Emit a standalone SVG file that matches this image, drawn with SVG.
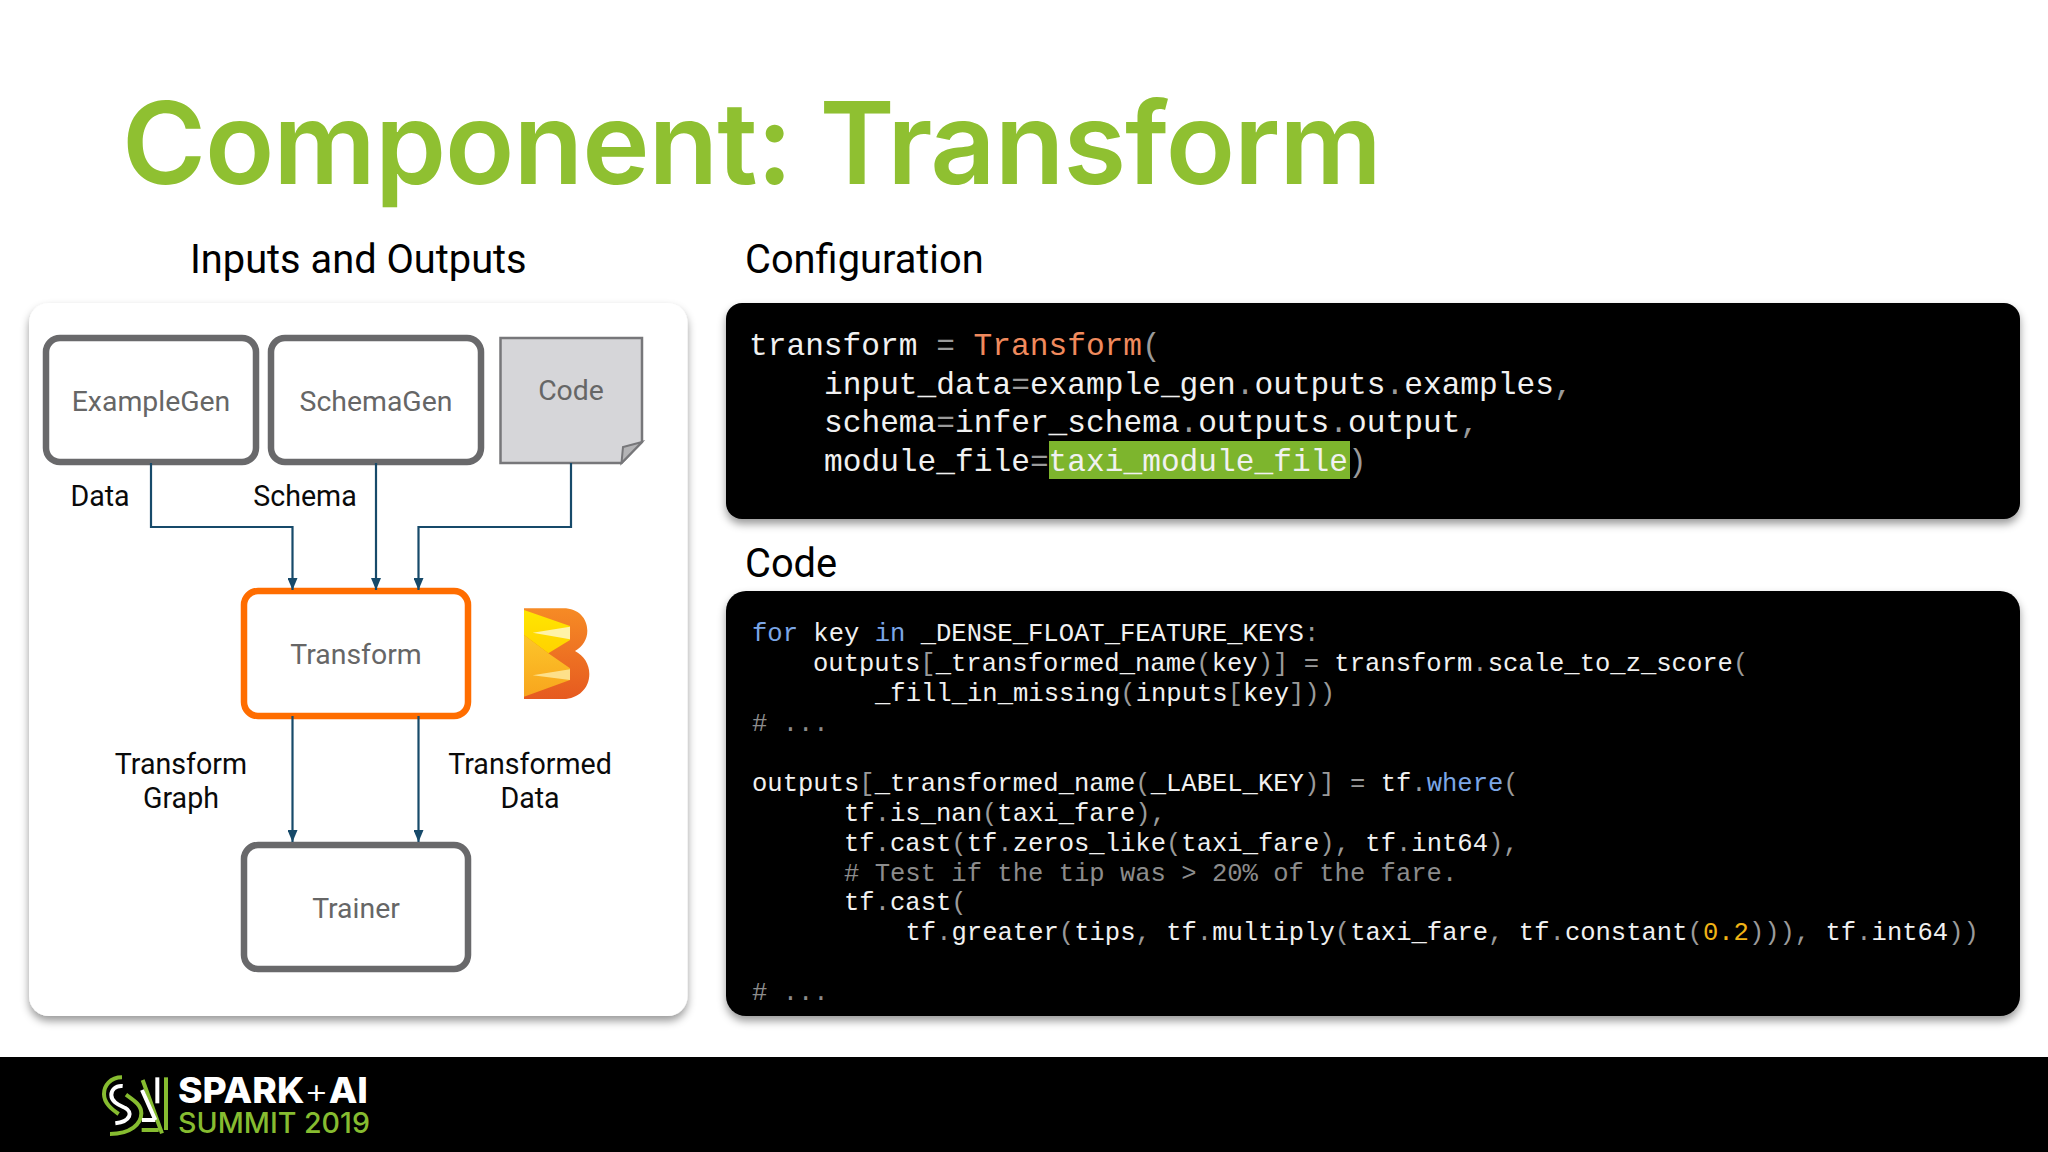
<svg xmlns="http://www.w3.org/2000/svg" width="2048" height="1152" viewBox="0 0 2048 1152">
<style>
.ui{font-family:Roboto,"Liberation Sans",sans-serif}
.h{font-size:39.8px;fill:#000}
.lb{font-size:28.6px;fill:#0a0a0a;text-anchor:middle}
.nt{font-size:28.4px;fill:#666;text-anchor:middle}
.box{fill:#fff;stroke:#69696b;stroke-width:6.500}
.conn{fill:none;stroke:#174a6a;stroke-width:2.2}
.m{font-family:"Liberation Mono","DejaVu Sans Mono",monospace;fill:#f1f1f1}
.c1{font-size:31.2px}
.c2{font-size:25.55px}
.p{fill:#9a9a9a}.k{fill:#7ba6e6}.o{fill:#f08a5d}.n{fill:#f1b416}.g{fill:#8c8c8c}
</style>
<defs>
<filter id="sh" x="-5%" y="-5%" width="110%" height="112%"><feDropShadow dx="0" dy="5" stdDeviation="4.500" flood-color="#000" flood-opacity=".4"/></filter>
<marker id="ah" viewBox="0 0 12 10" refX="12" refY="5" markerWidth="12" markerHeight="10" markerUnits="userSpaceOnUse" orient="auto"><path d="M0,0L12,5L0,10Z" fill="#174a6a"/></marker>
<linearGradient id="bo" x1="0" y1="0" x2="0" y2="1"><stop offset="0" stop-color="#f68b25"/><stop offset="1" stop-color="#e65a20"/></linearGradient>
<linearGradient id="by" x1="0" y1="0" x2="0" y2="1"><stop offset="0" stop-color="#ffe600"/><stop offset="1" stop-color="#ffd200"/></linearGradient>
<linearGradient id="by2" x1="0" y1="0" x2="0" y2="1"><stop offset="0" stop-color="#fcc62a"/><stop offset="1" stop-color="#f8a51d"/></linearGradient>
</defs>
<rect width="2048" height="1152" fill="#fff"/>
<text id="title" x="122" y="184" font-family="Inter,'Noto Sans',sans-serif" font-weight="600" font-size="114" fill="#8fc031" textLength="1260">Component: Transform</text>
<g class="ui">
<text class="h" x="190" y="272.500">Inputs and Outputs</text>
<text class="h" x="745" y="272.500">Configuration</text>
<text class="h" x="745" y="576.500">Code</text>
</g>
<rect id="card" x="29" y="303" width="658.500" height="713" rx="20" fill="#fff" filter="url(#sh)"/>
<g class="ui">
<g id="examplegen"><rect class="box" x="46" y="338" width="210" height="124" rx="14"/><text class="nt" x="151" y="410.500">ExampleGen</text></g>
<g id="schemagen"><rect class="box" x="271" y="338" width="210" height="124" rx="14"/><text class="nt" x="376" y="410.500">SchemaGen</text></g>
<g id="code"><path d="M500.500,338H642V442L621.500,463H500.500Z" fill="#d6d6d9" stroke="#77777a" stroke-width="2.500"/><path d="M642,442L623,447L621.500,463Z" fill="#b4b4b6" stroke="#77777a" stroke-width="2"/><text class="nt" x="571" y="400">Code</text></g>
<g id="transform"><rect class="box" x="244" y="591" width="224" height="125" rx="14" style="stroke:#ff6d00"/><text class="nt" x="356" y="664">Transform</text></g>
<g id="trainer"><rect class="box" x="244" y="845" width="224" height="124" rx="14"/><text class="nt" x="356" y="918">Trainer</text></g>
</g>
<g id="beam-logo" transform="translate(500 590) scale(.3333)">
<path d="M72,55H190C235,55 262,85 262,122C262,148 248,170 225,183C252,198 268,222 268,252C268,295 235,327 190,327H72Z" fill="url(#bo)"/>
<path d="M72,320L210,270V235L145,190L72,135Z" fill="url(#by2)"/>
<path d="M72,60L210,108V150L145,190L72,135Z" fill="url(#by)"/>
<path d="M98,128L210,110V148Z" fill="#fff3a8"/>
<path d="M98,256L210,238V270Z" fill="#fde08a"/>
</g>
<g id="connectors">
<path class="conn" d="M151,463V527H292.500V590" marker-end="url(#ah)"/>
<path class="conn" d="M376,463V590" marker-end="url(#ah)"/>
<path class="conn" d="M571,463V527H418.500V590" marker-end="url(#ah)"/>
<path class="conn" d="M292.500,716V842" marker-end="url(#ah)"/>
<path class="conn" d="M418.500,716V842" marker-end="url(#ah)"/>
</g>
<g id="labels" class="ui">
<text class="lb" x="100" y="506">Data</text>
<text class="lb" x="305" y="506">Schema</text>
<text class="lb" x="181" y="774">Transform</text>
<text class="lb" x="181" y="808">Graph</text>
<text class="lb" x="530" y="774">Transformed</text>
<text class="lb" x="530" y="808">Data</text>
</g>
<g id="config-panel">
<rect x="726" y="303" width="1294" height="216" rx="16" fill="#000" filter="url(#sh)"/>
<rect x="1049" y="441" width="301" height="38" fill="#7db52d"/>
<g class="m c1">
<text x="749" y="355">transform <tspan class="p">=</tspan> <tspan class="o">Transform</tspan><tspan class="p">(</tspan></text>
<text x="824" y="393.500">input_data<tspan class="p">=</tspan>example_gen<tspan class="p">.</tspan>outputs<tspan class="p">.</tspan>examples<tspan class="p">,</tspan></text>
<text x="824" y="432">schema<tspan class="p">=</tspan>infer_schema<tspan class="p">.</tspan>outputs<tspan class="p">.</tspan>output<tspan class="p">,</tspan></text>
<text x="824" y="470.500">module_file<tspan class="p">=</tspan>taxi_module_file<tspan class="p">)</tspan></text>
</g>
</g>
<g id="code-panel">
<rect x="726" y="591" width="1294" height="425" rx="20" fill="#000" filter="url(#sh)"/>
<g class="m c2">
<text x="752" y="641"><tspan class="k">for</tspan> key <tspan class="k">in</tspan> _DENSE_FLOAT_FEATURE_KEYS<tspan class="p">:</tspan></text>
<text x="813" y="671">outputs<tspan class="p">[</tspan>_transformed_name<tspan class="p">(</tspan>key<tspan class="p">)]</tspan> <tspan class="p">=</tspan> transform<tspan class="p">.</tspan>scale_to_z_score<tspan class="p">(</tspan></text>
<text x="875" y="701">_fill_in_missing<tspan class="p">(</tspan>inputs<tspan class="p">[</tspan>key<tspan class="p">]))</tspan></text>
<text x="752" y="731" class="g"># ...</text>
<text x="752" y="791">outputs<tspan class="p">[</tspan>_transformed_name<tspan class="p">(</tspan>_LABEL_KEY<tspan class="p">)]</tspan> <tspan class="p">=</tspan> tf<tspan class="p">.</tspan><tspan class="k">where</tspan><tspan class="p">(</tspan></text>
<text x="844" y="820.500">tf<tspan class="p">.</tspan>is_nan<tspan class="p">(</tspan>taxi_fare<tspan class="p">),</tspan></text>
<text x="844" y="850.500">tf<tspan class="p">.</tspan>cast<tspan class="p">(</tspan>tf<tspan class="p">.</tspan>zeros_like<tspan class="p">(</tspan>taxi_fare<tspan class="p">),</tspan> tf<tspan class="p">.</tspan>int64<tspan class="p">),</tspan></text>
<text x="844" y="880.500" class="g"># Test if the tip was &gt; 20% of the fare.</text>
<text x="844" y="910">tf<tspan class="p">.</tspan>cast<tspan class="p">(</tspan></text>
<text x="905.500" y="940">tf<tspan class="p">.</tspan>greater<tspan class="p">(</tspan>tips<tspan class="p">,</tspan> tf<tspan class="p">.</tspan>multiply<tspan class="p">(</tspan>taxi_fare<tspan class="p">,</tspan> tf<tspan class="p">.</tspan>constant<tspan class="p">(</tspan><tspan class="n">0.2</tspan><tspan class="p">))),</tspan> tf<tspan class="p">.</tspan>int64<tspan class="p">))</tspan></text>
<text x="752" y="999.500" class="g"># ...</text>
</g>
</g>
<g id="footer">
<rect y="1057" width="2048" height="95" fill="#000"/>
<g transform="translate(100 1070) scale(.3333)" fill="none" stroke-width="12">
<path d="M66,22C30,22 12,48 12,72C12,100 36,118 56,132" stroke="#86bc30"/>
<path d="M68,48C46,46 34,60 34,75C34,97 60,106 76,114C98,126 94,154 46,160" stroke="#fff"/>
<path d="M30,192C92,192 124,162 124,130C124,104 100,90 78,74" stroke="#86bc30"/>
<path d="M128,30L186,190M125,180H176" stroke="#86bc30"/>
<path d="M126,60L166,150M126,150H166" stroke="#fff"/>
<path d="M172,22V100" stroke="#fff"/>
<path d="M198,22V180" stroke="#86bc30"/>
</g>
<text x="178" y="1103" font-family="Inter,sans-serif" font-weight="800" font-size="35" fill="#fff" textLength="190" lengthAdjust="spacingAndGlyphs">SPARK<tspan font-weight="300">+</tspan>AI</text>
<text x="178" y="1133" font-family="Inter,sans-serif" font-weight="500" font-size="28" fill="#86bc30" textLength="192" lengthAdjust="spacingAndGlyphs">SUMMIT 2019</text>
</g>
</svg>
